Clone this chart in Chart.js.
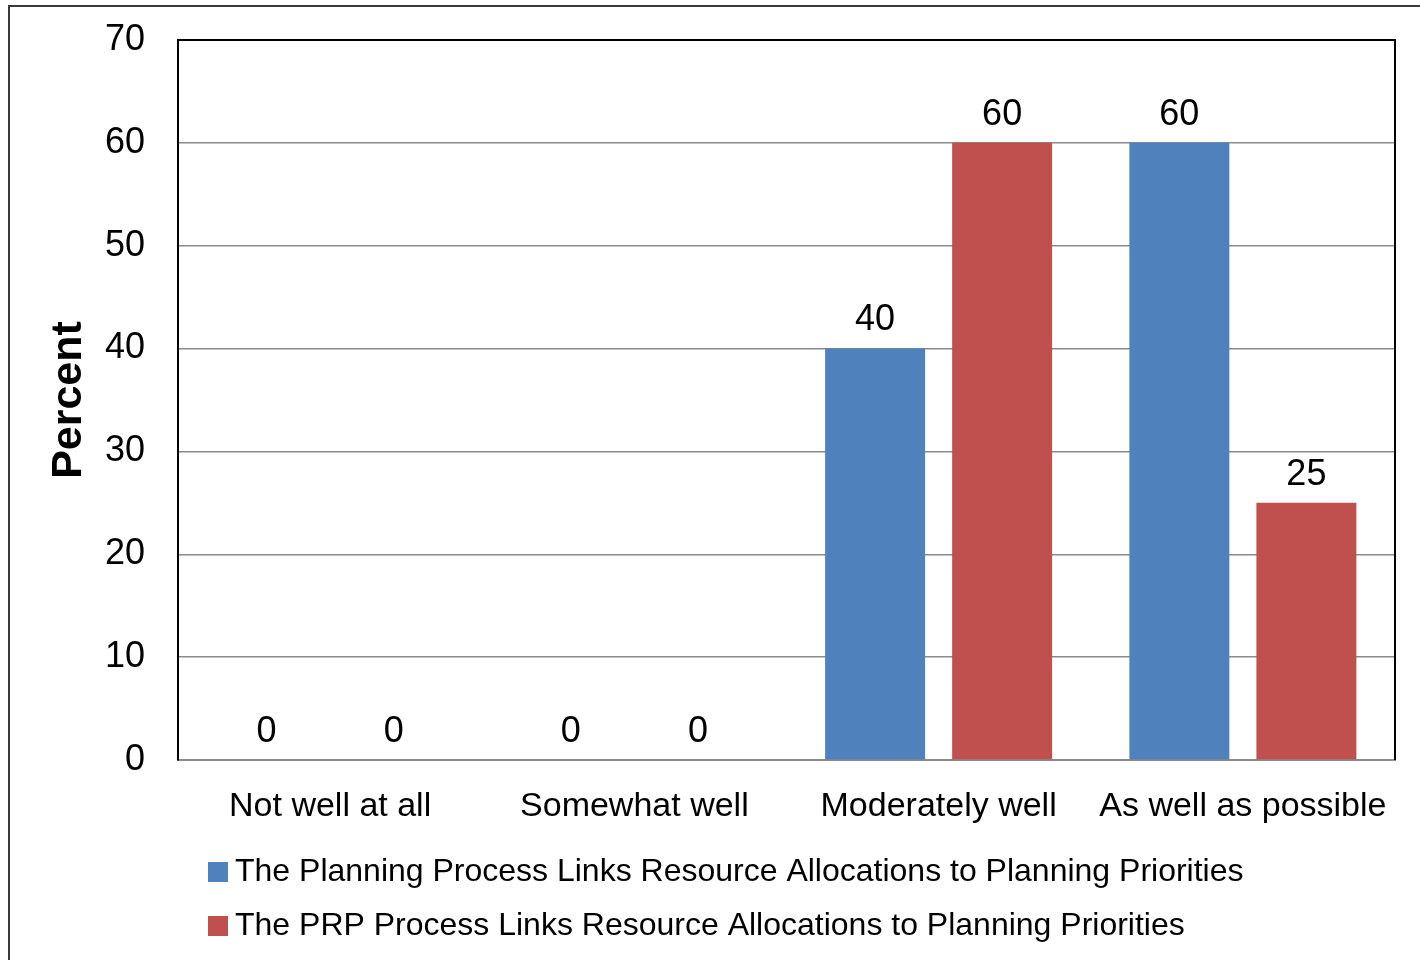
<!DOCTYPE html>
<html>
<head>
<meta charset="utf-8">
<script src="https://cdn.jsdelivr.net/npm/chart.js@4"></script>
<style>
  html, body { margin: 0; padding: 0; background: #fff; overflow: hidden; }
  #frame {
    position: absolute; left: 8px; top: 5px; width: 1500px; height: 1000px;
    border: 2px solid #3a3a3a; box-sizing: border-box;
  }
  #chart { position: absolute; left: 0; top: 0; }
</style>
</head>
<body>
<div id="frame"></div>
<canvas id="chart" width="1420" height="960"></canvas>
<script>
const categories = ['Not well at all', 'Somewhat well', 'Moderately well', 'As well as possible'];
const planningValues = [0, 0, 40, 60];
const prpValues = [0, 0, 60, 25];
const seriesLabels = [
  'The Planning Process Links Resource Allocations to Planning Priorities',
  'The PRP Process Links Resource Allocations to Planning Priorities'
];
const yTicks = [0, 10, 20, 30, 40, 50, 60, 70];

const colors = {
  blue: '#4F81BD',
  red: '#C0504D',
  grid: '#8a8a8a'
};

const FONT = '"Liberation Sans", Arial, sans-serif';

// small square swatch used as the legend marker
function swatch(color) {
  const c = document.createElement('canvas');
  c.width = 20;
  c.height = 20;
  const g = c.getContext('2d');
  g.fillStyle = color;
  g.fillRect(0, 0, 20, 20);
  return c;
}

// value labels above each bar, zeros included
const valueLabels = {
  id: 'valueLabels',
  afterDatasetsDraw(chart) {
    const ctx = chart.ctx;
    ctx.save();
    ctx.font = '36px ' + FONT;
    ctx.fillStyle = '#000';
    ctx.textAlign = 'center';
    ctx.textBaseline = 'middle';
    chart.data.datasets.forEach((ds, i) => {
      chart.getDatasetMeta(i).data.forEach((bar, j) => {
        ctx.fillText(String(ds.data[j]), bar.x, bar.y - 28);
      });
    });
    ctx.restore();
  }
};

// black top/right edges of the plot area, legend moved to its place
const plotFrame = {
  id: 'plotFrame',
  afterLayout(chart) {
    chart.legend.left = 195;
  },
  beforeDatasetsDraw(chart) {
    const a = chart.chartArea;
    const ctx = chart.ctx;
    ctx.save();
    ctx.strokeStyle = '#000';
    ctx.lineWidth = 2;
    ctx.beginPath();
    ctx.moveTo(a.left, a.top);
    ctx.lineTo(a.right, a.top);
    ctx.lineTo(a.right, a.bottom);
    ctx.stroke();
    ctx.restore();
  }
};

const swatches = [swatch(colors.blue), swatch(colors.red)];

new Chart(document.getElementById('chart'), {
  type: 'bar',
  data: {
    labels: categories,
    datasets: [
      {
        label: seriesLabels[0],
        data: planningValues,
        backgroundColor: colors.blue,
        borderWidth: 0
      },
      {
        label: seriesLabels[1],
        data: prpValues,
        backgroundColor: colors.red,
        borderWidth: 0
      }
    ]
  },
  options: {
    responsive: false,
    animation: false,
    categoryPercentage: 0.835,
    barPercentage: 0.787,
    layout: { padding: { top: 40, right: 25, left: 0, bottom: 8 } },
    plugins: {
      tooltip: { enabled: false },
      legend: {
        position: 'bottom',
        align: 'start',
        labels: {
          usePointStyle: true,
          pointStyleWidth: 2,
          boxHeight: 20,
          padding: 22,
          color: '#000',
          font: { family: FONT, size: 32 },
          generateLabels(chart) {
            const items = Chart.defaults.plugins.legend.labels.generateLabels(chart);
            items.forEach((item, i) => { item.pointStyle = swatches[i]; });
            return items;
          }
        }
      }
    },
    scales: {
      x: {
        grid: { display: false, drawTicks: false },
        border: { display: true, color: colors.grid, width: 2 },
        ticks: {
          color: '#000',
          padding: 26,
          maxRotation: 0,
          font: { family: FONT, size: 34 }
        },
        afterFit(scale) { scale.height = 74; }
      },
      y: {
        min: 0,
        max: 70,
        afterBuildTicks(scale) { scale.ticks = yTicks.map(v => ({ value: v })); },
        grid: {
          drawTicks: false,
          color: c => (c.tick && c.tick.value === 70 ? '#000' : colors.grid),
          lineWidth: c => (c.tick && c.tick.value === 70 ? 2 : 1.5)
        },
        border: { display: true, color: '#000', width: 2 },
        ticks: {
          color: '#000',
          padding: 33,
          font: { family: FONT, size: 36 }
        },
        title: {
          display: true,
          text: 'Percent',
          color: '#000',
          padding: { top: 43, bottom: 0 },
          font: { family: FONT, size: 43, weight: 'bold' }
        },
        afterFit(scale) {
          scale.width = 178;
          scale.paddingTop = 0;
          scale.paddingBottom = 0;
        }
      }
    }
  },
  plugins: [valueLabels, plotFrame]
});
</script>
</body>
</html>
